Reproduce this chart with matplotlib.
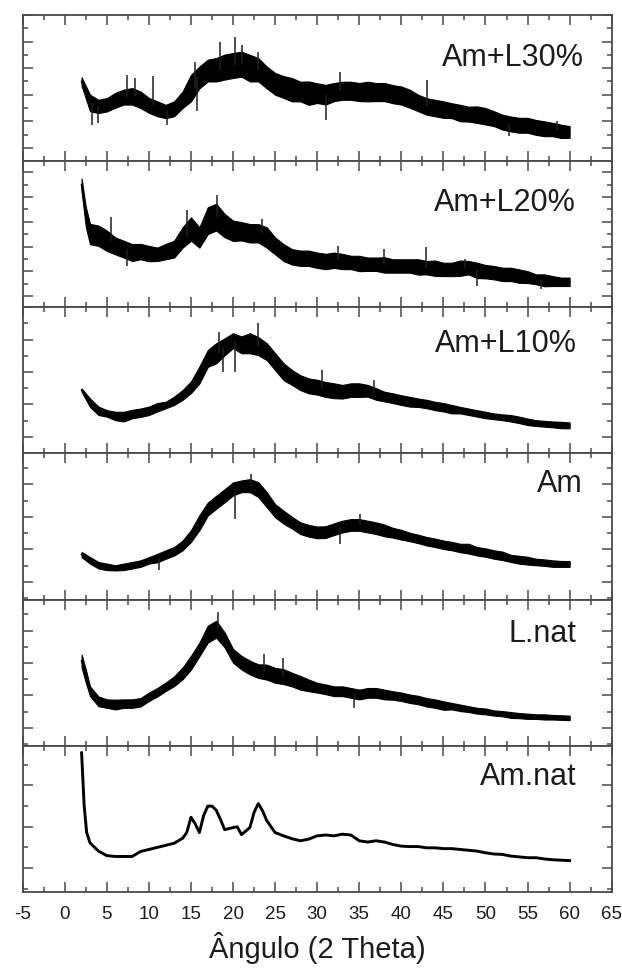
import matplotlib
matplotlib.use('Agg')
import matplotlib.pyplot as plt
from matplotlib.ticker import MultipleLocator, NullFormatter

plt.rcParams['font.family'] = ['Liberation Sans', 'DejaVu Sans']
plt.rcParams['axes.unicode_minus'] = False

# ── XRD patterns, top to bottom (intensity in arbitrary units) ──────────
deg = list(range(2, 61))

names = ["Am+L30%", "Am+L20%", "Am+L10%", "Am", "L.nat", "Am.nat"]

# Am+L30%
theta_l30 = deg
counts_l30 = [250, 169, 156, 162, 179, 191, 194, 181, 160, 147, 137, 147, 181, 225,
              265, 291, 294, 304, 310, 315, 300, 294, 265, 241, 229, 219, 212, 206,
              206, 200, 210, 215, 215, 210, 212, 210, 210, 202, 197, 185, 169, 156,
              150, 144, 140, 131, 127, 125, 119, 110, 97, 90, 85, 85, 77, 72, 69, 62, 60]
spread_l30 = [16, 31, 25, 25, 28, 28, 31, 31, 28, 28, 25, 28, 31, 50, 41, 41, 44, 47,
              47, 47, 50, 44, 41, 41, 41, 44, 37, 44, 37, 37, 34, 34, 34, 34, 37, 34,
              34, 34, 34, 34, 31, 31, 31, 31, 28, 31, 28, 31, 31, 28, 28, 28, 28, 28,
              28, 28, 25, 25, 22]
# isolated noise spikes (angle, tip intensity)
spike_x_l30 = [3.2, 3.9, 7.4, 8.4, 10.5, 12.1, 15.5, 15.7, 18.5, 20.2, 21.1, 23.0,
               31.0, 32.7, 43.1, 52.8, 58.5]
spike_y_l30 = [87, 94, 275, 262, 269, 87, 325, 137, 400, 419, 388, 362,
               106, 287, 256, 44, 100]

# Am+L20%
theta_l20 = [2, 2.5] + list(range(3, 61))
counts_l20 = [450, 320, 251, 244, 224, 203, 190, 176, 180, 172, 169, 180, 190, 237,
              271, 237, 305, 319, 285, 264, 262, 254, 254, 237, 203, 176, 159, 153,
              153, 145, 140, 145, 140, 136, 132, 129, 129, 126, 122, 122, 122, 118,
              115, 113, 108, 108, 113, 115, 104, 99, 95, 88, 88, 81, 77, 68, 64, 61,
              58, 58]
spread_l20 = [25, 40, 41, 41, 41, 34, 34, 34, 31, 31, 27, 31, 34, 41, 47, 41, 54, 54,
              47, 41, 37, 37, 37, 41, 34, 34, 31, 31, 31, 31, 31, 31, 31, 27, 31, 27,
              27, 31, 27, 27, 27, 31, 27, 31, 27, 27, 31, 27, 31, 27, 27, 27, 27, 27,
              24, 20, 24, 20, 17, 17]
spike_x_l20 = [5.5, 7.4, 14.5, 18.1, 23.5, 32.5, 38.0, 42.9, 47.6, 49.0, 56.6]
spike_y_l20 = [319, 122, 346, 407, 312, 203, 190, 197, 149, 41, 27]

# Am+L10%
theta_l10 = deg
counts_l10 = [144, 105, 80, 72, 64, 62, 70, 74, 80, 91, 98, 111, 129, 153, 191, 242,
              258, 278, 297, 284, 289, 280, 263, 232, 201, 183, 167, 157, 153, 146,
              142, 139, 144, 144, 142, 132, 124, 119, 113, 108, 105, 101, 95, 91, 85,
              82, 77, 72, 67, 63, 60, 57, 52, 46, 42, 40, 38, 36, 35]
spread_l10 = [5, 13, 13, 10, 13, 15, 13, 13, 13, 13, 10, 13, 15, 18, 26, 26, 31, 26,
              23, 26, 31, 28, 26, 26, 26, 23, 23, 23, 23, 23, 23, 21, 21, 21, 18, 18,
              15, 15, 15, 15, 13, 13, 13, 13, 13, 10, 10, 10, 10, 9, 9, 10, 10, 10, 9,
              9, 9, 10, 9]
spike_x_l10 = [18.3, 18.8, 20.2, 23.0, 30.6, 36.7]
spike_y_l10 = [325, 201, 201, 350, 206, 175]

# Am
theta_am = deg
counts_am = [84, 66, 51, 46, 43, 46, 51, 56, 66, 73, 84, 94, 112, 141, 182, 224, 245,
             265, 286, 294, 296, 284, 253, 219, 199, 182, 165, 157, 152, 153, 162, 170,
             175, 175, 170, 165, 158, 151, 145, 138, 132, 125, 120, 114, 110, 104, 102,
             94, 90, 84, 80, 72, 68, 65, 61, 59, 56, 55, 55]
spread_am = [8, 10, 10, 10, 8, 10, 10, 10, 10, 13, 13, 13, 15, 18, 23, 20, 20, 20, 20,
             18, 20, 23, 23, 20, 20, 18, 18, 18, 18, 18, 18, 18, 18, 18, 18, 18, 18,
             15, 15, 13, 13, 13, 13, 13, 13, 13, 15, 13, 13, 13, 13, 11, 12, 12, 10,
             10, 10, 9, 9]
spike_x_am = [11.2, 20.2, 22.1, 32.7, 35.1]
spike_y_am = [36, 194, 332, 117, 209]

# L.nat
theta_lnat = [2, 2.5] + list(range(3, 61))
counts_lnat = [206, 160, 113, 82, 75, 72, 75, 75, 79, 96, 110, 127, 144, 168, 201, 242,
               289, 304, 271, 222, 201, 186, 175, 172, 162, 158, 149, 139, 131, 124,
               119, 113, 113, 108, 103, 108, 108, 103, 100, 96, 90, 86, 79, 75, 69, 67,
               62, 58, 53, 51, 46, 44, 40, 38, 36, 35, 34, 33, 32, 31]
spread_lnat = [20, 20, 15, 15, 13, 15, 13, 13, 13, 13, 13, 13, 15, 18, 21, 21, 26, 26,
               23, 21, 21, 21, 21, 23, 23, 23, 21, 21, 18, 15, 15, 15, 15, 15, 15, 15,
               15, 15, 13, 13, 13, 13, 13, 13, 13, 10, 10, 9, 9, 9, 8, 8, 9, 8, 8, 7,
               8, 7, 7, 7]
spike_x_lnat = [18.2, 23.7, 25.9, 34.4]
spike_y_lnat = [356, 227, 216, 62]

# Am.nat
theta_amnat = [2, 2.3, 2.6, 3] + list(range(4, 15)) + \
              [14.5, 15, 15.5, 16, 16.5, 17, 17.5, 18, 18.5, 19,
               20, 20.5, 21, 22, 22.5, 23, 23.5, 24] + list(range(25, 61))
counts_amnat = [279, 152, 86, 61, 41, 30, 28, 28, 28, 40, 45, 50, 55, 60, 72,
                86, 123, 107, 86, 127, 150, 150, 140, 118, 93,
                98, 100, 81, 98, 135, 156, 139, 115,
                86, 78, 71, 66, 70, 78, 80, 78, 82, 80, 66, 63, 66, 63, 57, 53, 52, 52,
                49, 49, 47, 47, 45, 43, 41, 37, 34, 33, 29, 27, 25, 25, 22, 20, 19, 18]

panels = [
    (theta_l30, counts_l30, spread_l30, spike_x_l30, spike_y_l30, (-50, 500)),
    (theta_l20, counts_l20, spread_l20, spike_x_l20, spike_y_l20, (-45, 545)),
    (theta_l10, counts_l10, spread_l10, spike_x_l10, spike_y_l10, (-52, 400)),
    (theta_am, counts_am, spread_am, spike_x_am, spike_y_am, (-55, 395)),
    (theta_lnat, counts_lnat, spread_lnat, spike_x_lnat, spike_y_lnat, (-55, 395)),
    (theta_amnat, counts_amnat, None, [], [], (-58, 296)),
]
label_y = [0.707, 0.715, 0.75, 0.79, 0.767, 0.786]
label_x = [0.953, 0.939, 0.941, 0.951, 0.94, 0.94]

frame = '#4a4a4a'
ink = '#1c1c1c'

fig, axes = plt.subplots(6, 1, figsize=(6.22, 9.74), dpi=100, sharex=True,
                         gridspec_kw={'hspace': 0})
fig.subplots_adjust(left=0.0365, right=0.9834, top=0.9846, bottom=0.0842)

for ax, (x, y, s, sx, sy, lim), name, ly, lx in zip(axes, panels, names,
                                                     label_y, label_x):
    if s is not None:
        lo = [v - d for v, d in zip(y, s)]
        hi = [v + d for v, d in zip(y, s)]
        ax.fill_between(x, lo, hi, color='black', lw=0.8)
        ax.plot(x, y, color='black', lw=1.2)
        # spikes start from the local band centre
        base = [y[min(range(len(x)), key=lambda i: abs(x[i] - a))] for a in sx]
        ax.vlines(sx, base, sy, color='#202020', lw=1.1)
    else:
        ax.plot(x, y, color='black', lw=2.1)
    ax.set_xlim(-5, 65)
    ax.set_ylim(*lim)
    ax.xaxis.set_major_locator(MultipleLocator(5))
    ax.xaxis.set_minor_locator(MultipleLocator(2.5))
    ax.yaxis.set_major_locator(MultipleLocator(100))
    ax.yaxis.set_minor_locator(MultipleLocator(50))
    ax.yaxis.set_major_formatter(NullFormatter())
    ax.tick_params(which='both', direction='in', top=True, bottom=True,
                   left=True, right=True, labelleft=False, color=frame, width=1.1)
    ax.tick_params(which='major', length=7.5)
    ax.tick_params(which='minor', length=3.8)
    ax.tick_params(axis='x', labelsize=13.5, labelcolor=ink, pad=10)
    for sp in ax.spines.values():
        sp.set_color(frame)
        sp.set_linewidth(1.3)
    ax.text(lx, ly, name, transform=ax.transAxes, ha='right', va='center',
            fontsize=22, color=ink)

fig.text(0.51, 0.027, "Ângulo (2 Theta)", ha='center', va='center',
         fontsize=21, color=ink)

fig.savefig("out.png", dpi=100)
